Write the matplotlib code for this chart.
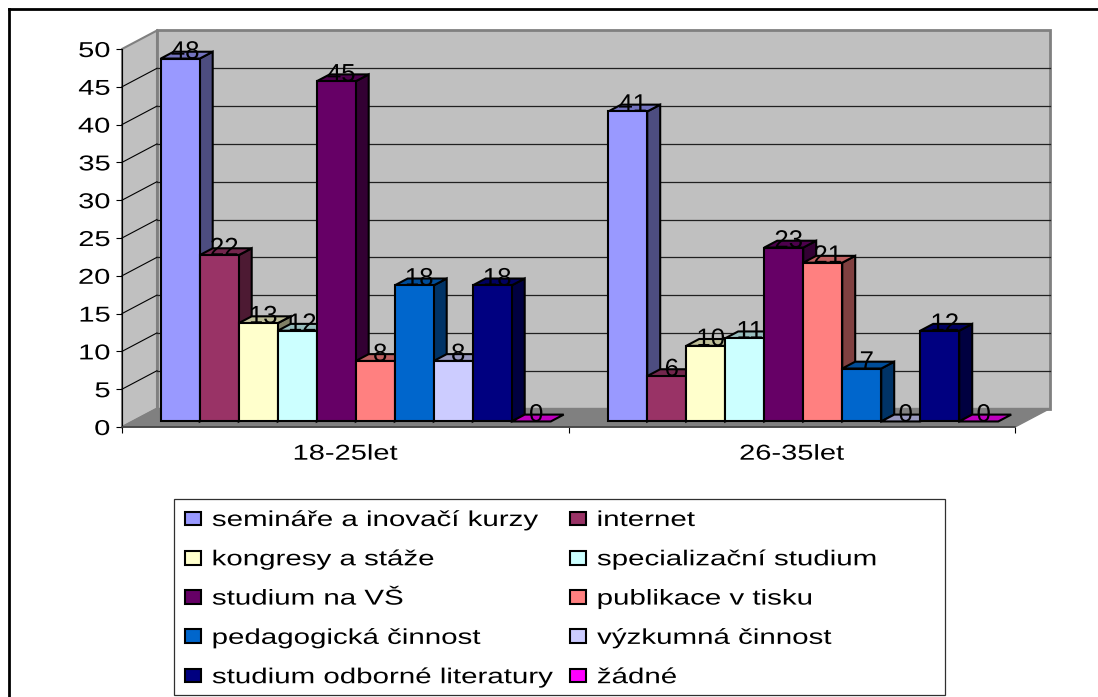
import matplotlib
matplotlib.use("Agg")
import matplotlib.pyplot as plt
import numpy as np
from matplotlib.patches import Patch, Polygon, Rectangle
from matplotlib.patheffects import AbstractPathEffect
from matplotlib.transforms import Affine2D

categories = ["18-25let", "26-35let"]
series = ["semináře a inovačí kurzy", "internet", "kongresy a stáže", "specializační studium",
          "studium na VŠ", "publikace v tisku", "pedagogická činnost", "výzkumná činnost",
          "studium odborné literatury", "žádné"]
young = [48, 22, 13, 12, 45, 8, 18, 8, 18, 0]
older = [41, 6, 10, 11, 23, 21, 7, 0, 12, 0]
colors = ["#9999FF", "#993366", "#FFFFCC", "#CCFFFF", "#660066",
          "#FF8080", "#0066CC", "#CCCCFF", "#000080", "#FF00FF"]
y_ticks = [0, 5, 10, 15, 20, 25, 30, 35, 40, 45, 50]

W, H = 1098, 697
plt.rcParams["font.family"] = ["Liberation Sans", "DejaVu Sans"]


# the original text is stretched sideways, this keeps it as normal text objects
class Stretch(AbstractPathEffect):
    def __init__(self, s, anchor="center"):
        super().__init__()
        self.s = s
        self.anchor = anchor

    def draw_path(self, renderer, gc, tpath, affine, rgbFace=None):
        box = tpath.get_extents()
        c = {"left": box.x0, "right": box.x1, "center": (box.x0 + box.x1) / 2}[self.anchor]
        t = Affine2D().translate(-c, 0).scale(self.s, 1).translate(c, 0)
        renderer.draw_path(gc, tpath, t + affine, rgbFace)


fig = plt.figure(figsize=(W / 100, H / 100), dpi=100, facecolor="white")
ax = fig.add_axes([122 / W, (H - 427) / H, 893 / W, 378 / H])
ax.set_xlim(0, 2)
ax.set_ylim(0, 50)
ax.patch.set_visible(False)

# px per data unit, used for the fake 3d depth
ux = 893 / 2
uy = 378 / 50
wall_dx, wall_dy = 35 / ux, 18.5 / uy
bar_w = 39 / ux
gap = (1 - 10 * bar_w) / 2
bar_d0, bar_d1 = 0.3, 0.67


def deep(x, y, d):
    return (x + d * wall_dx, y + d * wall_dy)


def poly(pts, fc, ec, lw, z):
    ax.add_patch(Polygon(pts, closed=True, facecolor=fc, edgecolor=ec, linewidth=lw,
                         zorder=z, clip_on=False, joinstyle="miter"))


# walls and floor
poly([(0, 0), deep(0, 0, 1), deep(0, 50, 1), (0, 50)], "#C0C0C0", "#808080", 1.5, 1)
poly([deep(0, 0, 1), deep(2, 0, 1), deep(2, 50, 1), deep(0, 50, 1)], "#C0C0C0", "#808080", 2, 1)
poly([(0, 0), (2, 0), deep(2, 0, 1), deep(0, 0, 1)], "#808080", "#808080", 1, 2)

for v in y_ticks[1:-1]:
    ax.plot([0, deep(0, v, 1)[0]], [v, deep(0, v, 1)[1]], color="black", lw=0.8, zorder=2, clip_on=False)
    ax.plot([deep(0, v, 1)[0], deep(2, v, 1)[0]], [deep(0, v, 1)[1]] * 2, color="#202020", lw=0.9, zorder=2, clip_on=False)

# bars and their labels
back_x = (bar_d1 - bar_d0) * wall_dx
back_y = (bar_d1 - bar_d0) * wall_dy
for c, values in enumerate([young, older]):
    for i, v in enumerate(values):
        rgb = np.array(matplotlib.colors.to_rgb(colors[i]))
        x0 = c + gap + i * bar_w + c / ux
        z = 3 + c * 10 + i * 0.1
        left, base = deep(x0, 0, bar_d0)
        right = left + bar_w
        top = base + v
        if v > 0:
            poly([(right, base), (right + back_x, base + back_y), (right + back_x, top + back_y), (right, top)],
                 rgb * 0.5, "black", 1.5, z)
        poly([(left, top), (right, top), (right + back_x, top + back_y), (left + back_x, top + back_y)],
             rgb * 0.75, "black", 1.5, z)
        if v > 0:
            poly([(left, base), (right, base), (right, top), (left, top)], colors[i], "black", 1.5, z)
        t = ax.text((left + right) / 2 + 5 / ux, top, str(v), fontsize=18, ha="center", va="baseline",
                    color="black", zorder=50, clip_on=False)
        t.set_path_effects([Stretch(1.03)])

# axes
for s in ["top", "right"]:
    ax.spines[s].set_visible(False)
ax.spines["left"].set_color("black")
ax.spines["left"].set_zorder(20)
ax.spines["bottom"].set_color("#404040")
ax.spines["bottom"].set_linewidth(1.2)
ax.spines["bottom"].set_zorder(20)
ax.set_yticks(y_ticks)
ax.set_xticks([0, 1, 2])
ax.set_xticklabels([])
ax.set_xticks([0.5, 1.5], minor=True)
ax.set_xticklabels(categories, minor=True)
ax.tick_params(axis="x", which="major", length=4.5, width=0.8, direction="out")
ax.tick_params(axis="x", which="minor", length=0, pad=12, labelsize=15.5)
ax.tick_params(axis="y", length=4.5, width=0.8, direction="out", pad=4, labelsize=15.5)
for t in ax.get_xticklabels(minor=True):
    t.set_path_effects([Stretch(1.35)])
for t in ax.get_yticklabels():
    t.set_path_effects([Stretch(1.35, "right")])

# legend, drawn row by row like the original
handles = [Patch(facecolor=col, edgecolor="black", linewidth=1.5) for col in colors]
order = list(range(0, 10, 2)) + list(range(1, 10, 2))
leg = fig.legend([handles[i] for i in order], [series[i] for i in order], ncol=2, frameon=False,
                 loc="upper left", bbox_to_anchor=(185 / W, 1 - 510 / H), fontsize=15.5, borderpad=0,
                 borderaxespad=0, handlelength=0.75, handleheight=0.6, handletextpad=0.51,
                 columnspacing=5.07, labelspacing=0.85)
for t in leg.get_texts():
    t.set_path_effects([Stretch(1.37, "left")])
fig.add_artist(Rectangle((174 / W, 1 - 695 / H), 771 / W, 196 / H, transform=fig.transFigure,
                         facecolor="none", edgecolor="#303030", linewidth=0.9))

# outer frame, only left and top are in the picture
fig.add_artist(plt.Line2D([9 / W, 9 / W], [0, 1 - 9 / H], color="black", lw=2))
fig.add_artist(plt.Line2D([9 / W, 1], [1 - 9 / H, 1 - 9 / H], color="black", lw=2))

fig.savefig("out.png", dpi=100)
